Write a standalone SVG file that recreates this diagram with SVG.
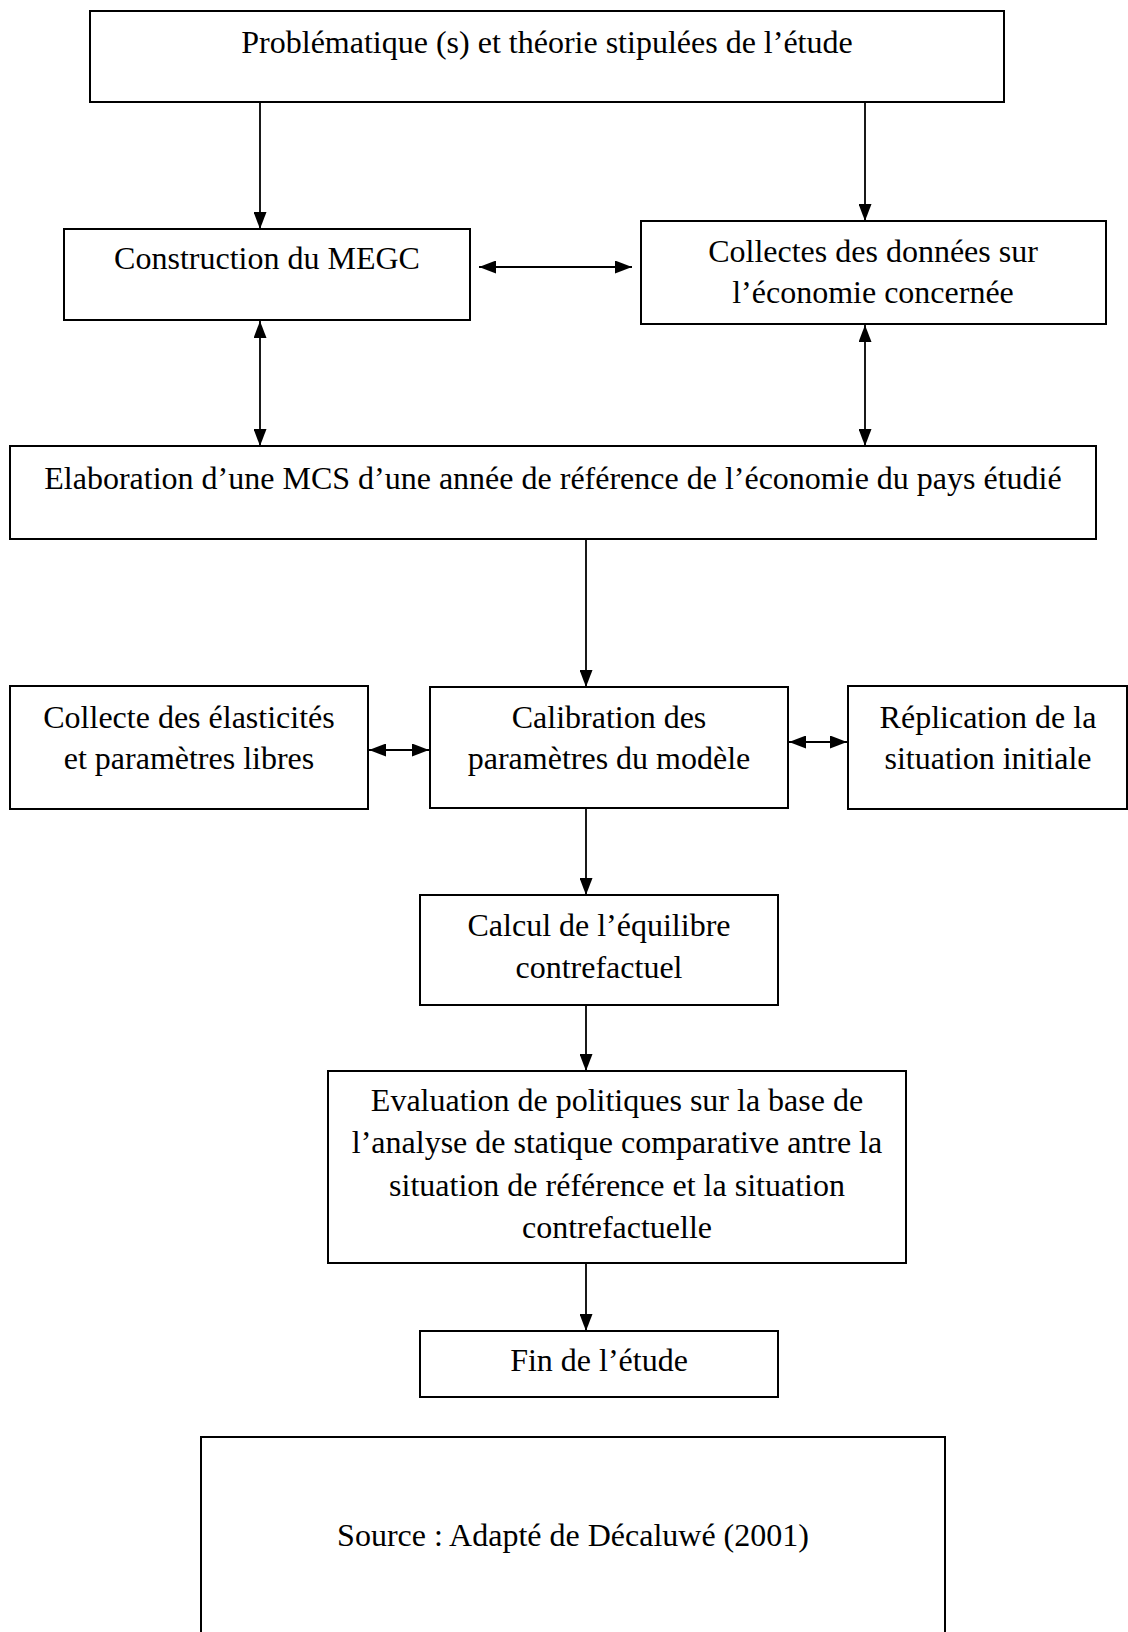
<svg xmlns="http://www.w3.org/2000/svg" width="1128" height="1632" viewBox="0 0 1128 1632">
  <style>
    .box { fill: #ffffff; stroke: #000000; stroke-width: 2; }
    .lbl { font-family: "Liberation Serif", "Times New Roman", serif; font-size: 32px; fill: #000000; text-anchor: middle; }
    .conn { stroke: #000000; stroke-width: 1.8; fill: none; }
  </style>
  <defs>
    <marker id="head" viewBox="0 0 17 13" refX="17" refY="6.5" markerWidth="17" markerHeight="13" markerUnits="userSpaceOnUse" orient="auto-start-reverse">
      <path d="M0,0 L17,6.5 L0,13 z" fill="#000000"/>
    </marker>
  </defs>
  <rect width="1128" height="1632" fill="#ffffff"/>

  <g id="n-problematique">
    <rect class="box" x="90" y="11" width="914" height="91"/>
    <text class="lbl" x="547" y="53">Problématique (s) et théorie stipulées de l’étude</text>
  </g>

  <g id="n-construction">
    <rect class="box" x="64" y="229" width="406" height="91"/>
    <text class="lbl" x="267" y="269">Construction du MEGC</text>
  </g>

  <g id="n-collectes-donnees">
    <rect class="box" x="641" y="221" width="465" height="103"/>
    <text class="lbl" x="873" y="262">Collectes des données sur</text>
    <text class="lbl" x="873" y="303">l’économie concernée</text>
  </g>

  <g id="n-elaboration-mcs">
    <rect class="box" x="10" y="446" width="1086" height="93"/>
    <text class="lbl" x="553" y="489">Elaboration d’une MCS d’une année de référence de l’économie du pays étudié</text>
  </g>

  <g id="n-collecte-elasticites">
    <rect class="box" x="10" y="686" width="358" height="123"/>
    <text class="lbl" x="189" y="728">Collecte des élasticités</text>
    <text class="lbl" x="189" y="769">et paramètres libres</text>
  </g>

  <g id="n-calibration">
    <rect class="box" x="430" y="687" width="358" height="121"/>
    <text class="lbl" x="609" y="728">Calibration des</text>
    <text class="lbl" x="609" y="769">paramètres du modèle</text>
  </g>

  <g id="n-replication">
    <rect class="box" x="848" y="686" width="279" height="123"/>
    <text class="lbl" x="988" y="728">Réplication de la</text>
    <text class="lbl" x="988" y="769">situation initiale</text>
  </g>

  <g id="n-calcul">
    <rect class="box" x="420" y="895" width="358" height="110"/>
    <text class="lbl" x="599" y="936">Calcul de l’équilibre</text>
    <text class="lbl" x="599" y="978">contrefactuel</text>
  </g>

  <g id="n-evaluation">
    <rect class="box" x="328" y="1071" width="578" height="192"/>
    <text class="lbl" x="617" y="1111">Evaluation de politiques sur la base de</text>
    <text class="lbl" x="617" y="1153">l’analyse de statique comparative antre la</text>
    <text class="lbl" x="617" y="1196">situation de référence et la situation</text>
    <text class="lbl" x="617" y="1238">contrefactuelle</text>
  </g>

  <g id="n-fin">
    <rect class="box" x="420" y="1331" width="358" height="66"/>
    <text class="lbl" x="599" y="1371">Fin de l’étude</text>
  </g>

  <g id="n-source">
    <rect class="box" x="201" y="1437" width="744" height="220"/>
    <text class="lbl" x="573" y="1546">Source : Adapté de Décaluwé (2001)</text>
  </g>

  <g id="connectors">
    <line class="conn" x1="260" y1="102" x2="260" y2="229" marker-end="url(#head)"/>
    <line class="conn" x1="865" y1="102" x2="865" y2="221" marker-end="url(#head)"/>
    <line class="conn" x1="479" y1="267" x2="632" y2="267" marker-start="url(#head)" marker-end="url(#head)"/>
    <line class="conn" x1="260" y1="321" x2="260" y2="446" marker-start="url(#head)" marker-end="url(#head)"/>
    <line class="conn" x1="865" y1="325" x2="865" y2="446" marker-start="url(#head)" marker-end="url(#head)"/>
    <line class="conn" x1="586" y1="539" x2="586" y2="687" marker-end="url(#head)"/>
    <line class="conn" x1="369" y1="750" x2="429" y2="750" marker-start="url(#head)" marker-end="url(#head)"/>
    <line class="conn" x1="789" y1="742" x2="847" y2="742" marker-start="url(#head)" marker-end="url(#head)"/>
    <line class="conn" x1="586" y1="808" x2="586" y2="895" marker-end="url(#head)"/>
    <line class="conn" x1="586" y1="1005" x2="586" y2="1071" marker-end="url(#head)"/>
    <line class="conn" x1="586" y1="1263" x2="586" y2="1331" marker-end="url(#head)"/>
  </g>
</svg>
